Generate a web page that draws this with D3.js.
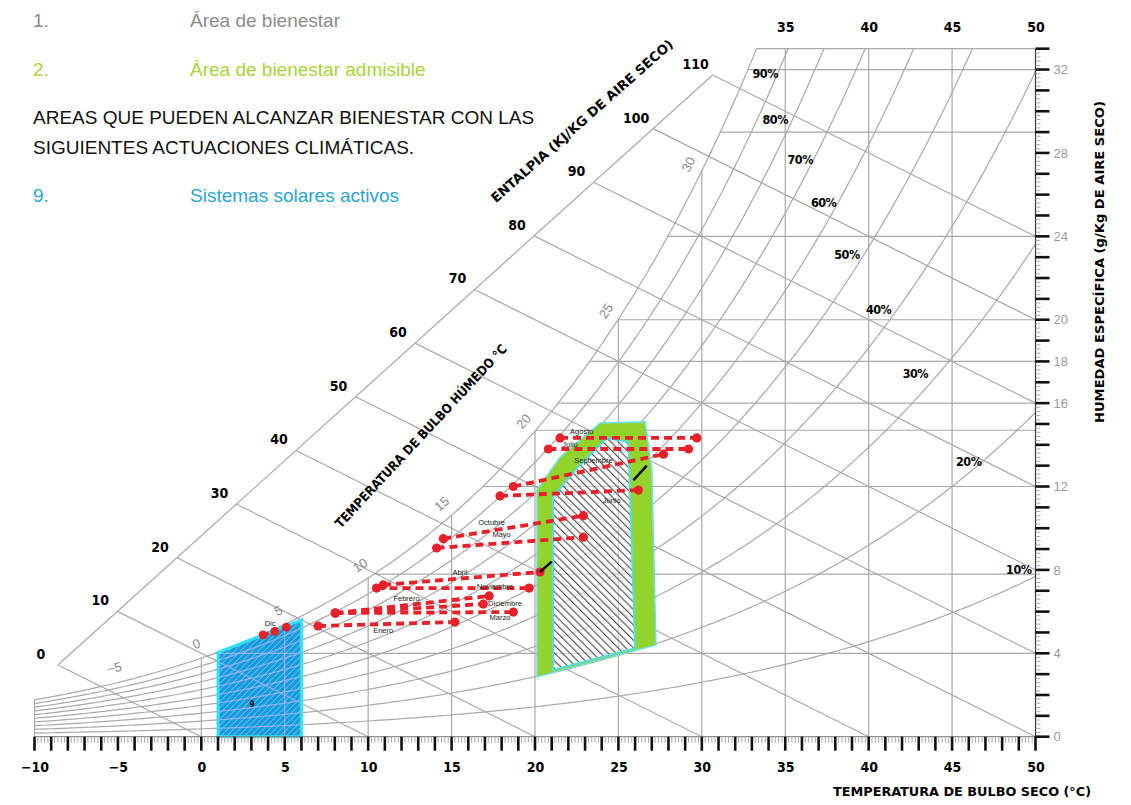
<!DOCTYPE html>
<html>
<head>
<meta charset="utf-8">
<script src="https://cdn.jsdelivr.net/npm/d3@7"></script>
<style>
    body { margin: 0; background: #fff; }
    svg { display: block; }
</style>
</head>
<body>
<svg id="chart" width="1131" height="805"></svg>
<script>
// ---------- values ----------
// grid levels (psychrometric chart)
var rhLevels = [10, 20, 30, 40, 50, 60, 70, 80, 90, 100];
var rhLabelT = [49.0, 46.0, 42.8, 40.6, 38.7, 37.3, 35.9, 34.4, 33.8];
var rhLabelW = [8.0, 13.2, 17.4, 20.5, 23.1, 25.6, 27.7, 29.6, 31.8];
var enthalpyLevels = [0, 10, 20, 30, 40, 50, 60, 70, 80, 90, 100, 110];
var enthalpyScaleT = [-8.6, 30.65];     // ends of the enthalpy scale (h = 0 and h = 110)
var wetBulbLevels = [-5, 0, 5, 10, 15, 20, 25, 30];
var dryBulbLines = [-10, 0, 5, 10, 15, 20, 25, 30, 35, 40, 45];
var humidityLines = [4, 7.8, 12, 14.7, 16, 18, 20, 24, 29, 32, 33];
var bottomTicks = [-10, -5, 0, 5, 10, 15, 20, 25, 30, 35, 40, 45, 50];
var topTicks = [35, 40, 45, 50];
var rightTicks = [0, 4, 8, 12, 16, 18, 20, 24, 28, 32];

// comfort areas  (dry bulb T, specific humidity g/kg)
var admisibleT = [20.12, 20.12, 21.5, 23.9, 26.6, 27.0, 27.25];
var admisibleW = [2.87, 11.83, 13.4, 15.05, 15.1, 12.8, 4.4];
var bienestarT = [21.08, 21.08, 22.6, 24.3, 25.6, 26.0];
var bienestarW = [3.2, 11.5, 12.95, 14.33, 14.13, 4.25];
var solarT = [1, 1, 6, 6];
var solarW = [0, 4.05, 5.6, 0];

// monthly lines
var months = ["Enero", "Febrero", "Marzo", "Abril", "Mayo", "Junio", "Julio",
    "Agosto", "Septiembre", "Octubre", "Noviembre", "Diciembre"];
var tempMin = [7.0, 8.03, 8.03, 10.9, 14.1, 17.9, 20.8, 21.5, 18.7, 14.5, 10.5, 8.03];
var tempMax = [15.2, 17.25, 18.7, 20.3, 22.9, 26.2, 29.2, 29.7, 27.7, 22.9, 19.65, 16.9];
var humMin = [5.31, 5.93, 5.93, 7.28, 9.05, 11.55, 13.8, 14.33, 12.0, 9.5, 7.13, 5.93];
var humMax = [5.50, 6.75, 5.98, 7.90, 9.57, 11.83, 13.8, 14.33, 13.55, 10.6, 7.13, 6.36];
var monthLabelT = [10.9, 12.3, 17.9, 15.5, 18.0, 24.6, 22.1, 22.8, 23.5, 17.4, 17.6, 18.2];
var monthLabelW = [5.12, 6.65, 5.74, 7.9, 9.72, 11.35, 14.04, 14.66, 13.27, 10.3, 7.23, 6.41];
var dicT = [3.7, 4.4, 5.1];
var dicW = [4.88, 5.05, 5.26];
var blackSegT = [[20.3, 21.0], [25.9, 26.7]];
var blackSegW = [[7.9, 8.4], [12.3, 13.0]];

// ---------- chart ----------
var svg = d3.select("#chart");
var BOLD = "'DejaVu Sans Condensed','DejaVu Sans',sans-serif";
var SANS = "'Liberation Sans',Arial,sans-serif";
var GRID = "#a9a9a9";
var W_TOP = 33;

var x = d3.scaleLinear().domain([-10, 50]).range([34.5, 1035.5]);
var y = d3.scaleLinear().domain([0, W_TOP]).range([736.7, 48.7]);
var line = d3.line().x(function (d) { return x(d[0]); }).y(function (d) { return y(d[1]); });

function pws(t) {
    return 0.61094 * Math.exp(17.625 * t / (t + 243.04));
}
function humAt(t, rh) {
    var p = rh / 100 * pws(t);
    return 622 * p / (101.325 - p);
}
function tempFor(w, rh) {
    var lo = -30, hi = 80;
    for (var i = 0; i < 60; i++) {
        var m = (lo + hi) / 2;
        if (humAt(m, rh) < w) lo = m; else hi = m;
    }
    return (lo + hi) / 2;
}
function rhCurve(rh) {
    var pts = [];
    for (var t = -10; t <= 50.001; t += 0.25) {
        var w = humAt(t, rh);
        if (w > W_TOP) {
            pts.push([tempFor(W_TOP, rh), W_TOP]);
            break;
        }
        pts.push([t, w]);
    }
    return pts;
}
function scalePoint(h) {
    var t = enthalpyScaleT[0] + h / 110 * (enthalpyScaleT[1] - enthalpyScaleT[0]);
    return [t, (h - t) / 2.5];
}
function zip(a, b) {
    return a.map(function (v, i) { return [v, b[i]]; });
}

function drawGrid(g, color, width) {
    g.attr("fill", "none").attr("stroke", color).attr("stroke-width", width);
    rhLevels.forEach(function (rh) {
        g.append("path").attr("d", line(rhCurve(rh)));
    });
    enthalpyLevels.forEach(function (h) {
        var end = h <= 50 ? [h, 0] : [50, (h - 50) / 2.5];
        g.append("path").attr("d", line([scalePoint(h), end]));
    });
    g.append("path").attr("d", line([scalePoint(0), scalePoint(110)]));
    dryBulbLines.forEach(function (t) {
        g.append("path").attr("d", line([[t, 0], [t, Math.min(humAt(t, 100), W_TOP)]]));
    });
    humidityLines.forEach(function (w) {
        g.append("path").attr("d", line([[tempFor(w, 100), w], [50, w]]));
    });
}

var defs = svg.append("defs");
defs.append("pattern").attr("id", "hatchGrey")
    .attr("patternUnits", "userSpaceOnUse").attr("width", 5.4).attr("height", 5.4)
    .attr("patternTransform", "rotate(-45)")
    .append("line").attr("x1", 0).attr("y1", 0).attr("x2", 0).attr("y2", 5.4)
    .attr("stroke", "#555").attr("stroke-width", 2.3);
defs.append("pattern").attr("id", "hatchBlue")
    .attr("patternUnits", "userSpaceOnUse").attr("width", 4.2).attr("height", 4.2)
    .attr("patternTransform", "rotate(45)")
    .append("line").attr("x1", 0).attr("y1", 0).attr("x2", 0).attr("y2", 4.2)
    .attr("stroke", "#66dcf7").attr("stroke-width", 1.3);
defs.append("clipPath").attr("id", "clipSolar")
    .append("path").attr("d", line(zip(solarT, solarW)) + "Z");
defs.append("clipPath").attr("id", "clipBien")
    .append("path").attr("d", line(zip(bienestarT, bienestarW)) + "Z");

// base grid
drawGrid(svg.append("g"), GRID, 1.2);

// areas
svg.append("path").attr("d", line(zip(admisibleT, admisibleW)) + "Z")
    .attr("fill", "#93d42c").attr("stroke", "#6fe0e6").attr("stroke-width", 1.5);
svg.append("path").attr("d", line(zip(bienestarT, bienestarW)) + "Z").attr("fill", "#fff");
drawGrid(svg.append("g").attr("clip-path", "url(#clipBien)"), "#cfcfcf", 1);
svg.append("path").attr("d", line(zip(bienestarT, bienestarW)) + "Z")
    .attr("fill", "url(#hatchGrey)").attr("stroke", "#52dcea").attr("stroke-width", 2);

svg.append("path").attr("d", line(zip(solarT, solarW)) + "Z").attr("fill", "#1c98dc");
svg.append("path").attr("d", line(zip(solarT, solarW)) + "Z").attr("fill", "url(#hatchBlue)");
drawGrid(svg.append("g").attr("clip-path", "url(#clipSolar)").attr("opacity", 0.7), "#c4b8f2", 1.2);
svg.append("path").attr("d", line(zip(solarT, solarW)) + "Z")
    .attr("fill", "none").attr("stroke", "#34e2f5").attr("stroke-width", 3);
svg.append("text").attr("x", x(3.04)).attr("y", y(1.56)).attr("dy", "0.35em")
    .attr("text-anchor", "middle").attr("font-family", BOLD).attr("font-weight", "bold")
    .attr("font-size", 8).attr("fill", "#111").text("9");

// x axis ticks
var axisG = svg.append("g");
axisG.append("line").attr("x1", x(-10)).attr("x2", x(50)).attr("y1", y(0)).attr("y2", y(0))
    .attr("stroke", "#777").attr("stroke-width", 1);
axisG.selectAll(".xminor").data(d3.range(-100, 500, 2).map(function (v) { return v / 10; })
    .filter(function (v) { return v % 1 !== 0; }))
    .enter().append("line")
    .attr("x1", x).attr("x2", x).attr("y1", y(0)).attr("y2", y(0) + 6)
    .attr("stroke", "#aaa").attr("stroke-width", 1);
axisG.selectAll(".xmajor").data(d3.range(-10, 51, 1)).enter().append("line")
    .attr("x1", x).attr("x2", x).attr("y1", y(0)).attr("y2", y(0) + 14)
    .attr("stroke", "#111").attr("stroke-width", 2.6);

// right axis ticks
axisG.append("line").attr("x1", x(50)).attr("x2", x(50)).attr("y1", y(0)).attr("y2", y(W_TOP))
    .attr("stroke", "#333").attr("stroke-width", 1.2);
axisG.selectAll(".yminor").data(d3.range(0, 330, 2).map(function (v) { return v / 10; })
    .filter(function (v) { return v % 1 !== 0; }))
    .enter().append("line")
    .attr("x1", x(50)).attr("x2", x(50) + 5).attr("y1", y).attr("y2", y)
    .attr("stroke", "#aaa").attr("stroke-width", 1);
axisG.selectAll(".ymajor").data(d3.range(0, 34, 1)).enter().append("line")
    .attr("x1", x(50)).attr("x2", x(50) + 14).attr("y1", y).attr("y2", y)
    .attr("stroke", "#111").attr("stroke-width", 2.6);

// axis labels
var bottomAxis = svg.append("g").attr("transform", "translate(0," + y(0) + ")")
    .call(d3.axisBottom(x).tickValues(bottomTicks).tickSize(0).tickPadding(25));
var topAxis = svg.append("g").attr("transform", "translate(0,37)")
    .call(d3.axisTop(x).tickValues(topTicks).tickSize(0).tickPadding(5));
[bottomAxis, topAxis].forEach(function (a) {
    a.select(".domain").remove();
    a.selectAll("text").attr("font-family", BOLD).attr("font-weight", "bold")
        .attr("font-size", 14).attr("fill", "#000");
});
var rightAxis = svg.append("g").attr("transform", "translate(" + x(50) + ",0)")
    .call(d3.axisRight(y).tickValues(rightTicks).tickSize(0).tickPadding(18));
rightAxis.select(".domain").remove();
rightAxis.selectAll("text").attr("font-family", SANS).attr("font-size", 13).attr("fill", "#9a9a9a");

// enthalpy scale labels
svg.append("g").selectAll("text").data(enthalpyLevels).enter().append("text")
    .attr("x", function (h) { return x(scalePoint(h)[0]) - 17; })
    .attr("y", function (h) { return y(scalePoint(h)[1]) - 11; })
    .attr("dy", "0.35em").attr("text-anchor", "middle")
    .attr("font-family", BOLD).attr("font-weight", "bold").attr("font-size", 14)
    .text(function (h) { return h; });

// wet bulb labels along saturation curve
svg.append("g").selectAll("text").data(wetBulbLevels).enter().append("text")
    .attr("transform", function (t) {
        var px = x(t), py = y(humAt(t, 100));
        var s = (y(humAt(t - 0.5, 100)) - y(humAt(t + 0.5, 100))) / (x(t + 0.5) - x(t - 0.5));
        var n = Math.sqrt(1 + s * s);
        var lx = px - 15 * s / n, ly = py - 15 / n;
        return "translate(" + lx + "," + ly + ") rotate(" + (-Math.atan(s) * 180 / Math.PI) + ")";
    })
    .attr("dy", "0.35em").attr("text-anchor", "middle")
    .attr("font-family", SANS).attr("font-size", 13).attr("fill", "#8a8a8a")
    .text(function (t) { return String(t).replace("-", "\u2212"); });

// RH labels
svg.append("g").selectAll("text").data(rhLabelT).enter().append("text")
    .attr("x", function (t) { return x(t); })
    .attr("y", function (t, i) { return y(rhLabelW[i]); })
    .attr("dy", "0.35em").attr("text-anchor", "middle")
    .attr("font-family", BOLD).attr("font-weight", "bold").attr("font-size", 12.5)
    .attr("letter-spacing", -0.5)
    .text(function (t, i) { return rhLevels[i] + "%"; });

// axis titles
function title(txt, cx, cy, rot, len) {
    svg.append("text").attr("transform", "translate(" + cx + "," + cy + ") rotate(" + rot + ")")
        .attr("text-anchor", "middle").attr("dy", "0.35em")
        .attr("font-family", BOLD).attr("font-weight", "bold").attr("font-size", 13)
        .attr("textLength", len).attr("lengthAdjust", "spacingAndGlyphs")
        .text(txt);
}
title("TEMPERATURA DE BULBO SECO (\u00b0C)", 962, 791, 0, 258);
title("HUMEDAD ESPEC\u00cdFICA (g/Kg DE AIRE SECO)", 1099, 262, -90, 322);
title("ENTALPIA (KJ/KG DE AIRE SECO)", 582, 121, -41.5, 238);
title("TEMPERATURA DE BULBO H\u00daMEDO \u00b0C", 421, 436, -47, 245);

// month lines
var mg = svg.append("g");
months.forEach(function (m, i) {
    var pts = [[tempMin[i], humMin[i]], [tempMax[i], humMax[i]]];
    mg.append("path").attr("d", line(pts)).attr("fill", "none")
        .attr("stroke", "#e8202a").attr("stroke-width", 3.8).attr("stroke-dasharray", "8,5");
    pts.forEach(function (p) {
        mg.append("circle").attr("cx", x(p[0])).attr("cy", y(p[1])).attr("r", 4.6).attr("fill", "#e8202a");
    });
    mg.append("text").attr("x", x(monthLabelT[i])).attr("y", y(monthLabelW[i])).attr("dy", "0.35em")
        .attr("text-anchor", "middle").attr("font-family", SANS).attr("font-size", 7.5).attr("fill", "#222")
        .text(m);
});
mg.append("path").attr("d", line(zip(dicT, dicW))).attr("fill", "none")
    .attr("stroke", "#e8202a").attr("stroke-width", 3.6).attr("stroke-dasharray", "6,4");
dicT.forEach(function (t, i) {
    mg.append("circle").attr("cx", x(t)).attr("cy", y(dicW[i])).attr("r", 4.4).attr("fill", "#e8202a");
});
mg.append("text").attr("x", x(4.12)).attr("y", y(5.45)).attr("dy", "0.35em")
    .attr("text-anchor", "middle").attr("font-family", SANS).attr("font-size", 7.5).attr("fill", "#222")
    .text("Dic");
blackSegT.forEach(function (s, i) {
    mg.append("path").attr("d", line(zip(s, blackSegW[i]))).attr("stroke", "#000").attr("stroke-width", 2.4);
});

// legend text
var legend = svg.append("g").attr("font-family", SANS).attr("font-size", 19);
legend.append("text").attr("x", 33).attr("y", 27).attr("fill", "#8c8c8c").text("1.");
legend.append("text").attr("x", 190).attr("y", 27).attr("fill", "#8c8c8c").text("\u00c1rea de bienestar");
legend.append("text").attr("x", 33).attr("y", 76).attr("fill", "#a9d43a").text("2.");
legend.append("text").attr("x", 190).attr("y", 76).attr("fill", "#a9d43a").text("\u00c1rea de bienestar admisible");
legend.append("text").attr("x", 33).attr("y", 124).attr("fill", "#111").text("AREAS QUE PUEDEN ALCANZAR BIENESTAR CON LAS");
legend.append("text").attr("x", 33).attr("y", 154).attr("fill", "#111").text("SIGUIENTES ACTUACIONES CLIM\u00c1TICAS.");
legend.append("text").attr("x", 33).attr("y", 202).attr("fill", "#2ba5d5").text("9.");
legend.append("text").attr("x", 190).attr("y", 202).attr("fill", "#2ba5d5").text("Sistemas solares activos");
</script>
</body>
</html>
